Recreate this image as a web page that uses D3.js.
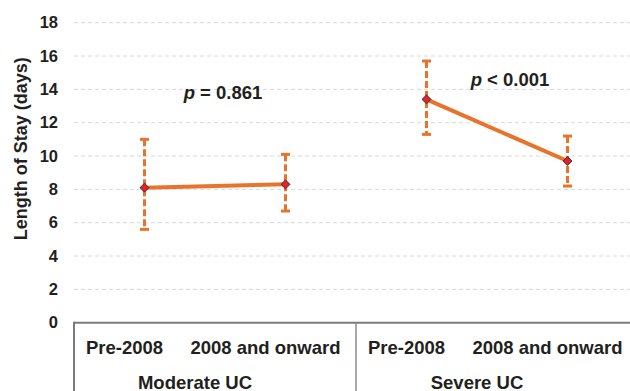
<!DOCTYPE html>
<html><head><meta charset="utf-8">
<script src="https://cdn.jsdelivr.net/npm/d3@7/dist/d3.min.js"></script>
<style>body{margin:0;background:#fff}svg{display:block}text{font-family:"Liberation Sans",Arial,sans-serif;font-weight:bold;fill:#231f20}</style>
</head><body><div id="c"></div>
<script>
const groups = ["Moderate UC", "Severe UC"];
const periods = ["Pre-2008", "2008 and onward"];
const means = [[8.1, 8.3], [13.4, 9.7]];
const upper = [[11.0, 10.1], [15.7, 11.2]];
const lower = [[5.6, 6.7], [11.3, 8.2]];
const pLabels = ["= 0.861", "< 0.001"];
const yTicks = [0, 2, 4, 6, 8, 10, 12, 14, 16, 18];

const W = 630, H = 391;
const svg = d3.select("#c").append("svg").attr("width", W).attr("height", H);
const mLeft = 74, mRight = 638, mTop = 22.7, mBottom = 322.7;
const orange = "#E8732A";
const labelShift = -20;

const y = d3.scaleLinear().domain([0, 18]).range([mBottom, mTop]);
const xg = d3.scaleBand().domain(groups).range([mLeft, mRight]);
const xp = d3.scaleBand().domain(periods).range([0, xg.bandwidth()]);
const cx = (gi, pi) => xg(groups[gi]) + xp(periods[pi]) + xp.bandwidth() / 2;

// gridlines
svg.append("g").selectAll("line").data(yTicks.filter(d => d > 0)).join("line")
  .attr("x1", mLeft).attr("x2", W).attr("y1", d => y(d)).attr("y2", d => y(d))
  .attr("stroke", "#d9d9d9").attr("stroke-width", 1).attr("stroke-dasharray", "4,3");

// y axis labels
const ya = svg.append("g").attr("transform", `translate(${mLeft},0)`)
  .call(d3.axisLeft(y).tickValues(yTicks).tickSize(0).tickPadding(16));
ya.select(".domain").remove();
ya.selectAll("text").attr("font-size", 16.5).attr("font-family", null).style("font-weight", "bold").attr("fill", "#231f20");

// y title
svg.append("text").attr("transform", `translate(27,${(mTop + mBottom) / 2 - 24}) rotate(-90)`)
  .attr("text-anchor", "middle").attr("font-size", 18).text("Length of Stay (days)");

// axis box
svg.append("line").attr("x1", mLeft).attr("x2", W).attr("y1", mBottom).attr("y2", mBottom)
  .attr("stroke", "#7a7a7a").attr("stroke-width", 2);
svg.append("line").attr("x1", mLeft).attr("x2", mLeft).attr("y1", mBottom - 1).attr("y2", H)
  .attr("stroke", "#7a7a7a").attr("stroke-width", 2);
svg.append("line").attr("x1", xg(groups[1])).attr("x2", xg(groups[1])).attr("y1", mBottom).attr("y2", H)
  .attr("stroke", "#8a8a8a").attr("stroke-width", 1.5);

// category labels
groups.forEach((g, gi) => {
  periods.forEach((p, pi) => {
    svg.append("text").attr("x", cx(gi, pi) + labelShift).attr("y", 354).attr("text-anchor", "middle")
      .attr("font-size", 18.5).text(p);
  });
  svg.append("text").attr("x", xg(g) + xg.bandwidth() / 2 + labelShift).attr("y", 388.5).attr("text-anchor", "middle")
    .attr("font-size", 18.5).text(g);
});

// error bars
groups.forEach((g, gi) => {
  periods.forEach((p, pi) => {
    const x = cx(gi, pi);
    svg.append("line").attr("x1", x).attr("x2", x).attr("y1", y(upper[gi][pi])).attr("y2", y(lower[gi][pi]))
      .attr("stroke", orange).attr("stroke-width", 3).attr("stroke-dasharray", "7,3");
    [upper[gi][pi], lower[gi][pi]].forEach(v => {
      svg.append("line").attr("x1", x - 4.5).attr("x2", x + 4.5).attr("y1", y(v)).attr("y2", y(v))
        .attr("stroke", orange).attr("stroke-width", 3);
    });
  });
});

// lines and markers
groups.forEach((g, gi) => {
  const pts = periods.map((p, pi) => [cx(gi, pi), y(means[gi][pi])]);
  svg.append("path").attr("d", d3.line()(pts)).attr("stroke", orange).attr("stroke-width", 4).attr("fill", "none");
  pts.forEach(([px, py]) => {
    svg.append("path").attr("d", d3.symbol(d3.symbolDiamond2, 50)())
      .attr("transform", `translate(${px},${py})`).attr("fill", "#e8202a").attr("stroke", "#333").attr("stroke-width", 1);
  });
  // p label
  const t = svg.append("text").attr("x", xg(g) + xg.bandwidth() / 2 + (gi === 0 ? 8 : 13)).attr("y", gi === 0 ? 99 : 86)
    .attr("text-anchor", "middle").attr("font-size", 18.5);
  t.append("tspan").attr("font-style", "italic").text("p");
  t.append("tspan").text(" " + pLabels[gi]);
});
</script></body></html>
